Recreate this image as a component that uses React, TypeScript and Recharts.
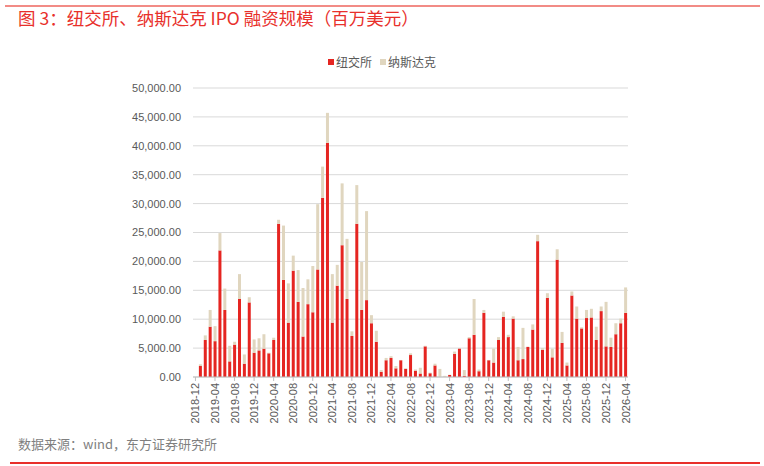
import { BarChart, Bar, XAxis, YAxis, CartesianGrid } from "recharts";

const months = [
  "2018-12", "2019-01", "2019-02", "2019-03", "2019-04", "2019-05", "2019-06", "2019-07", "2019-08", "2019-09", "2019-10", "2019-11",
  "2019-12", "2020-01", "2020-02", "2020-03", "2020-04", "2020-05", "2020-06", "2020-07", "2020-08", "2020-09", "2020-10", "2020-11",
  "2020-12", "2021-01", "2021-02", "2021-03", "2021-04", "2021-05", "2021-06", "2021-07", "2021-08", "2021-09", "2021-10", "2021-11",
  "2021-12", "2022-01", "2022-02", "2022-03", "2022-04", "2022-05", "2022-06", "2022-07", "2022-08", "2022-09", "2022-10", "2022-11",
  "2022-12", "2023-01", "2023-02", "2023-03", "2023-04", "2023-05", "2023-06", "2023-07", "2023-08", "2023-09", "2023-10", "2023-11",
  "2023-12", "2024-01", "2024-02", "2024-03", "2024-04", "2024-05", "2024-06", "2024-07", "2024-08", "2024-09", "2024-10", "2024-11",
  "2024-12", "2025-01", "2025-02", "2025-03", "2025-04", "2025-05", "2025-06", "2025-07", "2025-08", "2025-09", "2025-10", "2025-11",
  "2025-12", "2026-01", "2026-02", "2026-03", "2026-04",
];

// 纽交所 (百万美元)
const nyse = [
  0, 1900, 6400, 8700, 6200, 21900, 11600, 2700, 5600, 13500, 2300, 12900,
  4200, 4600, 4900, 4100, 6400, 26500, 16800, 9400, 18400, 13000, 7000, 12600,
  11200, 18600, 31000, 40500, 9400, 15800, 22800, 13500, 7100, 26500, 11600, 13300,
  9300, 6100, 900, 2900, 3300, 1500, 2900, 1400, 3800, 1100, 600, 5300,
  650, 2000, 0, 0, 350, 4000, 4900, 200, 6700, 7300, 1000, 11100,
  2900, 2500, 6400, 10400, 6900, 10100, 2900, 3100, 5200, 8200, 23500, 4700,
  13700, 3400, 20300, 5900, 2000, 14100, 10100, 8400, 10200, 10300, 6400, 11400,
  5300, 5200, 7400, 9300, 11100,
];

// 纳斯达克 (百万美元)
const nasdaq = [
  0, 300, 800, 2900, 2600, 3000, 3700, 2700, 500, 4300, 1600, 900,
  2300, 2100, 2500, 100, 400, 700, 9400, 6800, 2600, 5500, 8400, 4300,
  8000, 11300, 5400, 5200, 8400, 3600, 10700, 10400, 800, 6700, 8300, 15400,
  1400, 1900, 300, 400, 300, 400, 50, 100, 300, 200, 1000, 100,
  100, 300, 1400, 200, 50, 400, 50, 1000, 200, 6200, 300, 500,
  50, 2400, 500, 900, 400, 400, 2300, 5400, 50, 900, 1100, 300,
  800, 1500, 1800, 1900, 500, 700, 2100, 200, 1400, 1500, 2300, 800,
  7700, 1600, 1900, 800, 4400,
];

const yTicks = [0, 5000, 10000, 15000, 20000, 25000, 30000, 35000, 40000, 45000, 50000];

const series = [
  { key: "nyse", name: "纽交所", color: "#E52521" },
  { key: "nasdaq", name: "纳斯达克", color: "#E0D6BF" },
];

const data = months.map((m, i) => ({ month: m, nyse: nyse[i], nasdaq: nasdaq[i] }));

const TEXT = "#595959";

const fmt = (v: number) =>
  v.toLocaleString("en-US", { minimumFractionDigits: 2, maximumFractionDigits: 2 });

const MonthTick = (props: any) => {
  const { x, y, payload } = props;
  return (
    <g transform={`translate(${x},${y})`}>
      <text
        transform="rotate(-90)"
        textAnchor="end"
        dy={4}
        fontSize={11}
        fill={TEXT}
        fontFamily="Liberation Sans, Arial, sans-serif"
      >
        {payload.value}
      </text>
    </g>
  );
};

export default function App() {
  return (
    <div
      style={{
        position: "relative",
        width: 764,
        height: 466,
        background: "#fff",
        fontFamily: "'Noto Sans CJK SC', sans-serif",
        overflow: "hidden",
      }}
    >
      <style>{"body{margin:0}"}</style>
      <div style={{ position: "absolute", left: 5, right: 4, top: 5, height: 2, background: "#F28B86" }} />
      <div
        style={{
          position: "absolute",
          left: 18,
          top: 6,
          fontSize: 17.5,
          color: "#E8302B",
          whiteSpace: "nowrap",
          lineHeight: "24px",
        }}
      >
        图 3：纽交所、纳斯达克 IPO 融资规模（百万美元）
      </div>

      {/* legend */}
      <div
        style={{
          position: "absolute",
          left: 0,
          width: 764,
          top: 53,
          display: "flex",
          justifyContent: "center",
          gap: 8,
          fontSize: 12,
          color: TEXT,
          lineHeight: "18px",
        }}
      >
        {series.map((s) => (
          <span key={s.key} style={{ display: "flex", alignItems: "center", gap: 2 }}>
            <span style={{ width: 6, height: 6, background: s.color, display: "inline-block" }} />
            {s.name}
          </span>
        ))}
      </div>

      <BarChart
        width={764}
        height={466}
        data={data}
        margin={{ top: 88, right: 136, bottom: 34, left: 0 }}
        barSize={3}
        style={{ position: "absolute", left: 0, top: 0 }}
      >
        <CartesianGrid vertical={false} stroke="#D9D9D9" />
        <XAxis
          dataKey="month"
          interval={3}
          height={55}
          tick={<MonthTick />}
          tickLine={{ stroke: "#BFBFBF" }}
          tickSize={4}
          axisLine={{ stroke: "#BFBFBF" }}
        />
        <YAxis
          width={193}
          domain={[0, 50000]}
          ticks={yTicks}
          tickFormatter={fmt}
          axisLine={false}
          tickLine={false}
          tickMargin={6}
          tick={{ fontSize: 11, fill: TEXT, fontFamily: "Liberation Sans, Arial, sans-serif" }}
        />
        {series.map((s) => (
          <Bar
            key={s.key}
            dataKey={s.key}
            name={s.name}
            stackId="a"
            fill={s.color}
            isAnimationActive={false}
          />
        ))}
      </BarChart>

      <div
        style={{
          position: "absolute",
          left: 18,
          top: 434,
          fontSize: 13,
          color: "#7F7F7F",
          whiteSpace: "nowrap",
        }}
      >
        数据来源：wind，东方证券研究所
      </div>
      <div style={{ position: "absolute", left: 10, right: 4, top: 462, height: 2, background: "#E8302B" }} />
    </div>
  );
}
